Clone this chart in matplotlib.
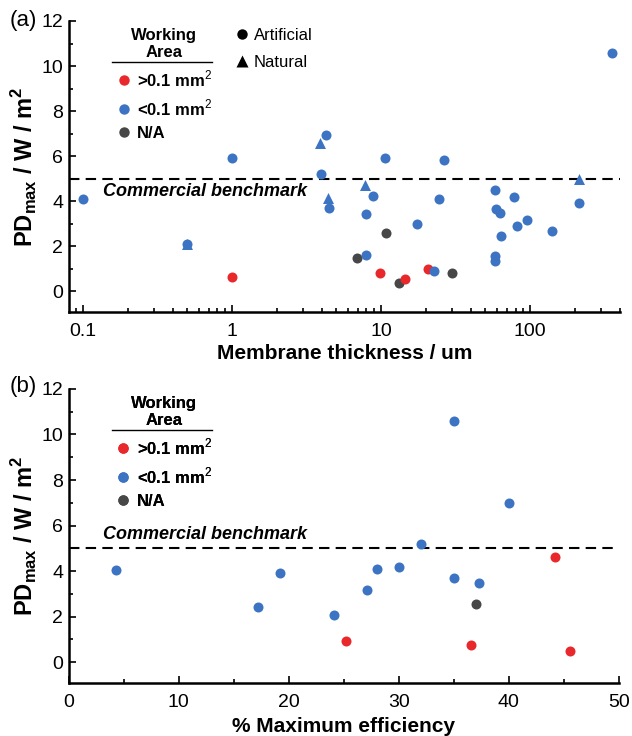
import matplotlib
matplotlib.use("Agg")
import matplotlib.pyplot as plt
from matplotlib.lines import Line2D
from matplotlib.ticker import LogLocator, NullFormatter, FixedLocator, MultipleLocator

plt.rcParams['font.family'] = ['Liberation Sans', 'DejaVu Sans']
plt.rcParams['mathtext.fontset'] = 'custom'
plt.rcParams['mathtext.rm'] = 'Liberation Sans'
plt.rcParams['mathtext.bf'] = 'Liberation Sans:bold'

RED = '#e8282b'
BLUE = '#3c74c3'
GREY = '#474747'

# panel (a): membrane thickness (um) vs PDmax (W/m2)
a_blue_circ_x = [0.1, 0.5, 1, 3.96, 4.27, 4.5, 8.0, 8.0, 8.8, 10.6, 17.5, 22.8, 24.5, 26.5,
                 58.5, 59, 63, 64, 58, 58, 78, 82, 96, 140, 213, 355]
a_blue_circ_y = [4.1, 2.1, 5.9, 5.2, 6.95, 3.72, 3.42, 1.62, 4.22, 5.9, 3.0, 0.9, 4.1, 5.85,
                 4.5, 3.65, 3.48, 2.45, 1.55, 1.35, 4.2, 2.9, 3.18, 2.7, 3.92, 10.6]
a_blue_tri_x = [0.5, 3.92, 4.43, 7.8, 213]
a_blue_tri_y = [2.1, 6.6, 4.15, 4.7, 5.0]
a_red_x = [1, 9.9, 14.6, 20.6]
a_red_y = [0.65, 0.8, 0.55, 0.98]
a_grey_x = [6.9, 10.9, 13.3, 30]
a_grey_y = [1.47, 2.6, 0.38, 0.8]

# panel (b): % maximum efficiency vs PDmax
b_blue_x = [4.25, 17.2, 19.2, 24.1, 27.1, 28.0, 30.0, 32.0, 35.0, 37.3, 35.0, 40.0]
b_blue_y = [4.06, 2.43, 3.9, 2.08, 3.15, 4.07, 4.18, 5.2, 3.7, 3.46, 10.6, 7.0]
b_red_x = [25.2, 36.6, 44.2, 45.6]
b_red_y = [0.93, 0.73, 4.6, 0.5]
b_grey_x = [37.0]
b_grey_y = [2.57]

benchmark = 5
area_labels = ['>0.1 mm$^{2}$', '<0.1 mm$^{2}$', 'N/A']

fig = plt.figure(figsize=(6.32, 7.36), dpi=100)
ax1 = fig.add_axes([0.109, 0.576, 0.872, 0.3955])
ax2 = fig.add_axes([0.109, 0.072, 0.870, 0.3995])

ms = 52
for ax in (ax1, ax2):
    for s in ('top', 'right'):
        ax.spines[s].set_visible(False)
    for s in ('left', 'bottom'):
        ax.spines[s].set_linewidth(1.8)
    ax.tick_params(which='both', direction='in', width=1.2, labelsize=14)
    ax.tick_params(axis='y', pad=4)
    ax.tick_params(axis='x', pad=8)
    ax.tick_params(which='major', length=5)
    ax.tick_params(which='minor', length=3)
    ax.set_ylim(-0.92, 12)
    ax.yaxis.set_major_locator(MultipleLocator(2))
    ax.yaxis.set_minor_locator(MultipleLocator(1))
    ax.axhline(benchmark, color='k', lw=1.5, ls=(0, (5, 3)), zorder=1)
    ax.set_ylabel('PD$_{\\mathbf{max}}$ / W / m$^{\\mathbf{2}}$', fontsize=17,
                  fontweight='bold', labelpad=1)

# panel a
ax1.set_xscale('log')
ax1.set_xlim(0.0806, 402)
ax1.xaxis.set_major_locator(FixedLocator([0.1, 1, 10, 100]))
ax1.xaxis.set_minor_locator(LogLocator(base=10, subs=range(2, 10)))
ax1.xaxis.set_minor_formatter(NullFormatter())
ax1.set_xticklabels(['0.1', '1', '10', '100'])
ax1.scatter(a_grey_x, a_grey_y, s=ms, color=GREY, zorder=3, linewidths=0)
ax1.scatter(a_red_x, a_red_y, s=ms, color=RED, zorder=4, linewidths=0)
ax1.scatter(a_blue_tri_x, a_blue_tri_y, s=ms * 1.2, marker='^', color=BLUE, zorder=5, linewidths=0)
ax1.scatter(a_blue_circ_x, a_blue_circ_y, s=ms, color=BLUE, zorder=5, linewidths=0)
ax1.set_xlabel('Membrane thickness / um', fontsize=15, fontweight='bold', labelpad=3)
ax1.text(0.062, 4.45, 'Commercial benchmark', transform=ax1.get_yaxis_transform(),
         fontsize=13, fontweight='bold', style='italic', va='center')

# panel b
ax2.set_xlim(0, 50)
ax2.xaxis.set_major_locator(MultipleLocator(10))
ax2.xaxis.set_minor_locator(MultipleLocator(5))
ax2.scatter(b_grey_x, b_grey_y, s=ms, color=GREY, zorder=3, linewidths=0)
ax2.scatter(b_red_x, b_red_y, s=ms, color=RED, zorder=4, linewidths=0)
ax2.scatter(b_blue_x, b_blue_y, s=ms, color=BLUE, zorder=5, linewidths=0)
ax2.set_xlabel('% Maximum efficiency', fontsize=15, fontweight='bold', labelpad=4)
ax2.text(0.062, 5.6, 'Commercial benchmark', transform=ax2.get_yaxis_transform(),
         fontsize=13, fontweight='bold', style='italic', va='center')

# legends
def area_legend(ax, anchor, line_y):
    handles = [Line2D([], [], ls='', marker='o', ms=7.5, mfc=c, mec='none')
               for c in (RED, BLUE, GREY)]
    leg = ax.legend(handles, area_labels, loc='upper left', bbox_to_anchor=anchor,
                    frameon=False, handlelength=0.8, handletextpad=0.4,
                    labelspacing=0.5, borderaxespad=0, alignment='center',
                    prop={'weight': 'bold', 'size': 12},
                    title='Working\nArea',
                    title_fontproperties={'weight': 'bold', 'size': 12})
    leg.get_title().set_multialignment('center')
    ax.add_artist(leg)
    ax.plot([0.078, 0.26], [line_y, line_y], transform=ax.transAxes, color='k',
            lw=1.0, clip_on=False)
    return leg

area_legend(ax1, (0.075, 1.0), 0.858)
area_legend(ax2, (0.075, 1.0), 0.86)

shape_handles = [Line2D([], [], ls='', marker='o', ms=7.5, mfc='k', mec='none'),
                 Line2D([], [], ls='', marker='^', ms=8.5, mfc='k', mec='none')]
ax1.legend(shape_handles, ['Artificial', 'Natural'], loc='upper left',
           bbox_to_anchor=(0.29, 1.0), frameon=False, handlelength=0.8,
           handletextpad=0.3, labelspacing=0.75, borderaxespad=0,
           prop={'size': 12})

fig.text(0.015, 0.972, '(a)', fontsize=16, va='center')
fig.text(0.015, 0.475, '(b)', fontsize=16, va='center')

fig.savefig('out.png', dpi=100)
